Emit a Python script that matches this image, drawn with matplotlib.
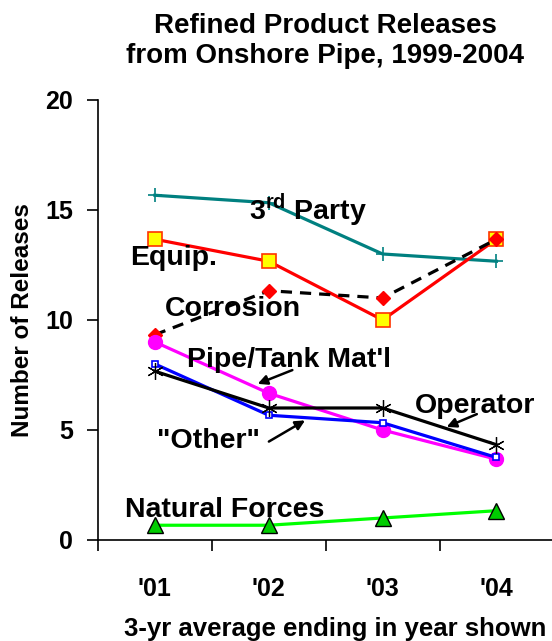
import matplotlib.pyplot as plt
import numpy as np

plt.rcParams['font.family'] = ['Liberation Sans', 'DejaVu Sans']
plt.rcParams['font.weight'] = 'bold'
plt.rcParams['mathtext.fontset'] = 'custom'
plt.rcParams['mathtext.rm'] = 'Liberation Sans:bold'
plt.rcParams['mathtext.bf'] = 'Liberation Sans:bold'

years = ["'01", "'02", "'03", "'04"]
third_party = [15.67, 15.33, 13.0, 12.67]
equip = [13.67, 12.67, 10.0, 13.67]
corrosion = [9.33, 11.33, 11.0, 13.67]
pipe_tank = [9.0, 6.67, 5.0, 3.67]
other = [8.0, 5.67, 5.33, 3.75]
operator = [7.67, 6.0, 6.0, 4.33]
natural = [0.67, 0.67, 1.0, 1.33]

x = np.arange(len(years))

fig = plt.figure(figsize=(5.52, 6.41), dpi=100)
ax = fig.add_axes([0.1775, 0.1576, 0.825, 0.6864])

ax.plot(x, third_party, color='#008080', lw=2.3, marker='+', ms=10, mew=1.2)
ax.plot(x, equip, color='#FF0000', lw=2.3, marker='s', ms=10, mfc='#FFFF00', mec='#FF3300', mew=1.2)
ax.plot(x, corrosion, color='black', lw=2.3, ls=(0, (3.5, 2.5)), marker='D', ms=7, mfc='#FF0000', mec='#FF0000')
ax.plot(x, pipe_tank, color='#FF00FF', lw=2.3, marker='o', ms=10, mfc='#FF00FF', mec='#FF00FF')
ax.plot(x, other, color='#0000FF', lw=2.3, marker='s', ms=5, mfc='white', mec='#0000FF', mew=1.2)
ax.plot(x, operator, color='black', lw=2.3, marker=(6, 2, 0), ms=12, mew=0.9)
ax.plot(x, natural, color='#00FF00', lw=2.3, marker='^', ms=11, mfc='#00CC00', mec='black', mew=1.0)

ax.set_xlim(-0.5, 3.5)
ax.set_ylim(0, 20)
ax.set_yticks([0, 5, 10, 15, 20])
ax.set_xticks([-0.5, 0.5, 1.5, 2.5])
ax.set_xticklabels([])
ax.set_xticks(x, minor=True)
ax.set_xticklabels(years, minor=True)
ax.tick_params(axis='x', which='minor', length=0, pad=27, labelsize=18)
ax.tick_params(axis='x', which='major', length=8, width=1.2, direction='out')
ax.tick_params(axis='y', length=8, width=1.2, direction='out', labelsize=18, pad=10)
for s in ['top', 'right']:
    ax.spines[s].set_visible(False)
for s in ['left', 'bottom']:
    ax.spines[s].set_linewidth(1.2)

ax.set_ylabel('Number of Releases', fontsize=17.5, fontweight='bold', labelpad=8)
ax.set_xlabel('3-yr average ending in year shown', fontsize=18.5, fontweight='bold', labelpad=11)
ax.xaxis.label.set_x(0.52)
fig.text(0.589, 0.98, 'Refined Product Releases\nfrom Onshore Pipe, 1999-2004',
         ha='center', va='top', fontsize=20, fontweight='bold', linespacing=1.2)

lab = dict(fontsize=20.5, fontweight='bold', ha='left', va='center')
ax.text(0.83, 15.0, r'3$^{\mathbf{rd}}$ Party', **lab)
ax.text(-0.22, 12.8, 'Equip.', **lab)
ax.text(0.09, 10.5, 'Corrosion', **lab)
ax.text(0.28, 8.18, "Pipe/Tank Mat'l", **lab)
ax.text(2.28, 6.09, 'Operator', **lab)
ax.text(0.02, 4.5, '"Other"', **lab)
ax.text(-0.26, 1.36, 'Natural Forces', **lab)

arr = dict(arrowstyle='-|>', color='black', lw=1.8, mutation_scale=14)
ax.annotate('', xy=(0.88, 7.05), xytext=(1.23, 7.77), arrowprops=arr)
ax.annotate('', xy=(2.54, 5.09), xytext=(2.85, 5.77), arrowprops=arr)
ax.annotate('', xy=(1.34, 5.5), xytext=(0.98, 4.41), arrowprops=arr)

fig.savefig('out.png', dpi=100)
